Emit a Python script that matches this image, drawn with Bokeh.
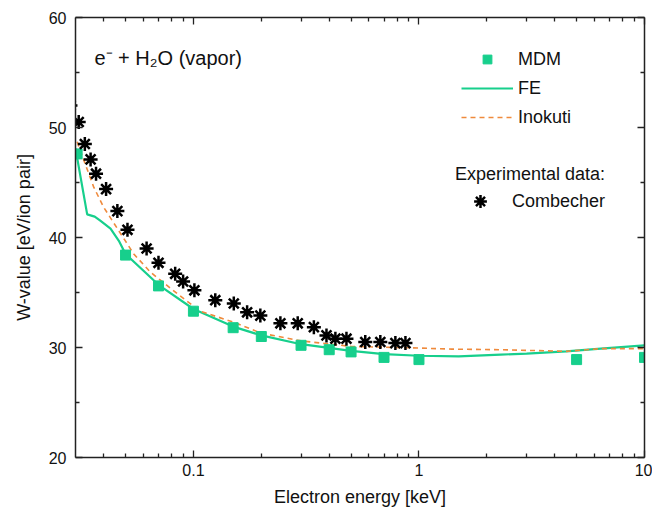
from bokeh.plotting import figure
from bokeh.models import (Range1d, FixedTicker, LogAxis, LinearAxis, Legend, LegendItem, Label,
                          CustomJSTickFormatter)
from bokeh.embed import file_html
from bokeh.resources import INLINE

# ---- data ----
mdm_e = [0.0305, 0.05, 0.07, 0.1, 0.15, 0.2, 0.3, 0.4, 0.5, 0.7, 1.0, 5.0, 10.0]
mdm_w = [47.6, 38.4, 35.6, 33.3, 31.8, 31.0, 30.2, 29.8, 29.6, 29.1, 28.9, 28.9, 29.1]

fe_e = [0.03, 0.0338, 0.0365, 0.0385, 0.0429, 0.0467, 0.05, 0.07, 0.1, 0.15, 0.2, 0.3,
        0.5, 0.7, 1.0, 1.5, 2.3, 3.0, 4.5, 6.4, 10.0]
fe_w = [48.1, 42.1, 41.9, 41.55, 40.8, 39.7, 38.5, 35.7, 33.5, 31.9, 31.1, 30.3,
        29.7, 29.4, 29.25, 29.2, 29.35, 29.45, 29.65, 29.9, 30.2]

ino_e = [0.0305, 0.0361, 0.040, 0.0467, 0.0544, 0.0645, 0.0847, 0.107, 0.151, 0.2, 0.3,
         0.5, 1.0, 1.4, 2.3, 4.5, 6.4, 10.0]
ino_w = [48.7, 44.6, 42.75, 40.6, 38.5, 36.85, 34.9, 33.3, 32.3, 31.3, 30.6,
         30.1, 29.95, 29.85, 29.8, 29.65, 29.9, 29.9]

comb_e = [0.0285, 0.031, 0.033, 0.035, 0.037, 0.041, 0.046, 0.051, 0.062, 0.070, 0.083,
          0.090, 0.101, 0.125, 0.151, 0.173, 0.198, 0.243, 0.290, 0.342, 0.389, 0.426,
          0.477, 0.578, 0.674, 0.786, 0.871]
comb_w = [52.0, 50.5, 48.5, 47.1, 45.8, 44.4, 42.4, 40.7, 39.0, 37.7, 36.7,
          36.0, 35.2, 34.3, 34.0, 33.2, 32.9, 32.2, 32.2, 31.85, 31.1, 30.8,
          30.8, 30.5, 30.5, 30.4, 30.4]

x_major = [0.1, 1, 10]
x_minor = [0.04, 0.05, 0.06, 0.07, 0.08, 0.09,
           0.2, 0.3, 0.4, 0.5, 0.6, 0.7, 0.8, 0.9,
           2, 3, 4, 5, 6, 7, 8, 9]
y_major = [20, 30, 40, 50, 60]
y_minor = [25, 35, 45, 55]

GREEN = "#17cf8c"
ORANGE = "#ef8a3c"
FONT = "Liberation Sans"

p = figure(width=652, height=512, x_axis_type="log",
           x_range=Range1d(0.03, 10), y_range=Range1d(20, 60),
           output_backend="svg", toolbar_location=None,
           min_border_left=75, min_border_right=8, min_border_top=17, min_border_bottom=55)
p.grid.visible = False
p.outline_line_color = None
p.background_fill_color = "white"

def style_axis(ax, show_labels=True):
    ax.axis_line_color = "#222222"
    ax.axis_line_width = 1.5
    ax.major_tick_line_color = "#222222"
    ax.minor_tick_line_color = "#222222"
    ax.major_tick_line_width = 1.3
    ax.minor_tick_line_width = 1.3
    ax.major_tick_in = 7
    ax.major_tick_out = 0
    ax.minor_tick_in = 4
    ax.minor_tick_out = 0
    ax.major_label_text_font = FONT
    ax.axis_label_text_font = FONT
    ax.axis_label_text_font_style = "normal"
    if show_labels:
        ax.major_label_text_font_size = "16px"
        ax.major_label_text_color = "#111111"
        ax.axis_label_text_font_size = "18px"
        ax.axis_label_text_color = "#111111"
    else:
        ax.major_label_text_font_size = "0px"
        ax.major_label_text_color = None
        ax.major_label_standoff = 0

p.xaxis.ticker = FixedTicker(ticks=x_major, minor_ticks=x_minor)
p.yaxis.ticker = FixedTicker(ticks=y_major, minor_ticks=y_minor)
p.xaxis.formatter = CustomJSTickFormatter(code="return String(tick);")
p.xaxis.axis_label = "Electron energy [keV]"
p.yaxis.axis_label = "W-value [eV/ion pair]"
style_axis(p.xaxis[0])
style_axis(p.yaxis[0])
p.xaxis.major_label_standoff = 6
p.xaxis.axis_label_standoff = 8
p.yaxis.major_label_standoff = 9
p.yaxis.axis_label_standoff = 12

top = LogAxis(ticker=FixedTicker(ticks=x_major, minor_ticks=x_minor))
style_axis(top, show_labels=False)
p.add_layout(top, "above")
right = LinearAxis(ticker=FixedTicker(ticks=y_major, minor_ticks=y_minor))
style_axis(right, show_labels=False)
p.add_layout(right, "right")

r_fe = p.line(fe_e, fe_w, line_color=GREEN, line_width=2.2)
r_ino = p.line(ino_e, ino_w, line_color=ORANGE, line_width=1.6, line_dash="5 4")
r_mdm = p.scatter(mdm_e, mdm_w, marker="square", size=10, fill_color=GREEN, line_color=GREEN)
r_comb = p.scatter(comb_e, comb_w, marker="asterisk", size=14, line_color="black", line_width=2.5)

leg1 = Legend(items=[LegendItem(label="MDM", renderers=[r_mdm]),
                     LegendItem(label="FE", renderers=[r_fe]),
                     LegendItem(label="Inokuti", renderers=[r_ino])],
              location=(386, 329), glyph_width=52, glyph_height=22, label_height=20,
              spacing=7, padding=0, margin=0, label_standoff=5,
              border_line_color=None, background_fill_alpha=0,
              label_text_font=FONT, label_text_font_size="18px", label_text_color="#111111")
leg2 = Legend(items=[LegendItem(label="Combecher", renderers=[r_comb])],
              title="Experimental data:",
              location=(380, 240), glyph_width=50, glyph_height=32, label_height=20,
              spacing=0, padding=0, margin=0, label_standoff=7, title_standoff=0,
              border_line_color=None, background_fill_alpha=0,
              title_text_font=FONT, title_text_font_size="18px", title_text_font_style="normal",
              title_text_color="#111111",
              label_text_font=FONT, label_text_font_size="18px", label_text_color="#111111")
p.add_layout(leg1, "center")
p.add_layout(leg2, "center")

p.add_layout(Label(x=0.0364, y=56.3, text="e\u207b + H\u2082O (vapor)", text_baseline="middle",
                   text_font=FONT, text_font_size="20px", text_color="#111111"))

open("out.html", "w").write(file_html(p, INLINE))
